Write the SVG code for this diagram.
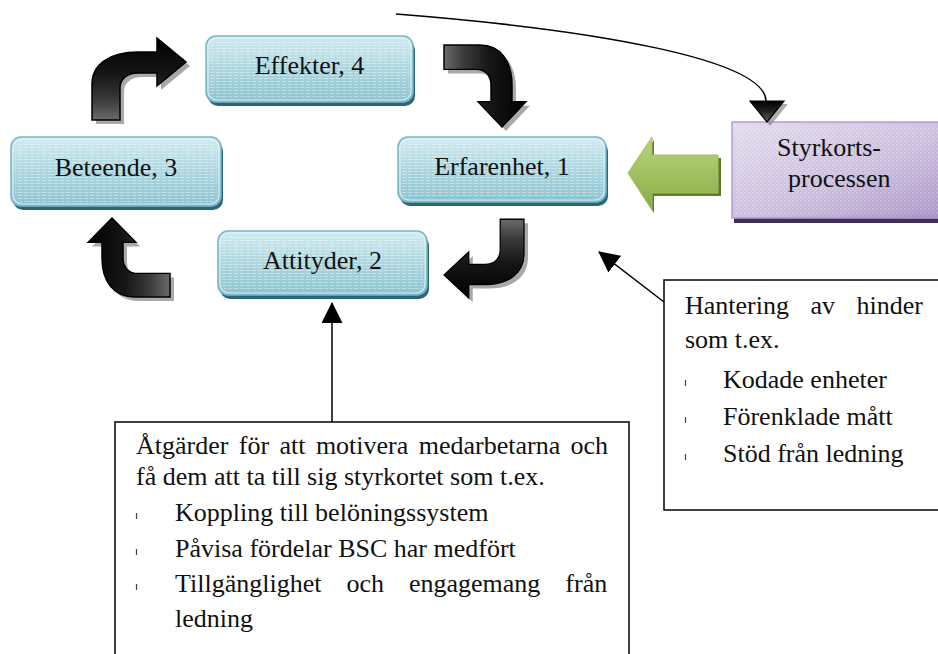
<svg xmlns="http://www.w3.org/2000/svg" xmlns:xlink="http://www.w3.org/1999/xlink" width="938" height="654" viewBox="0 0 938 654">
  <style>
    text { font-family: "Liberation Serif", "Times New Roman", serif; font-size: 26px; fill: #111; }
    .label { text-anchor: middle; }
    .node-shadow { fill: #2b6677; }
    .node-body { fill: url(#blueFill); stroke: #78b7c7; stroke-width: 1.5; }
    .node-tex { fill: url(#stripes); }
    .node-glow { fill: none; stroke: #e9f6f9; stroke-width: 1.2; opacity: 0.8; }
    .bent { fill: url(#darkFill); stroke: #000; stroke-width: 1.5; stroke-linejoin: miter; }
    .bent-shadow { fill: #6f6f6f; opacity: 0.6; }
    .line { fill: none; stroke: #000; stroke-width: 1.5; }
    .box { fill: #fff; stroke: #000; stroke-width: 1.5; }
    .tick { stroke: #444; stroke-width: 1.2; }
  </style>
  <defs>
    <linearGradient id="blueFill" x1="0" y1="0" x2="0" y2="1">
      <stop offset="0" stop-color="#d1ebf1"/>
      <stop offset="0.5" stop-color="#acd6df"/>
      <stop offset="1" stop-color="#8bc3d0"/>
    </linearGradient>
    <linearGradient id="purpleFill" x1="0" y1="0" x2="1" y2="1">
      <stop offset="0" stop-color="#e3dbee"/>
      <stop offset="0.55" stop-color="#cbbcdf"/>
      <stop offset="1" stop-color="#a88fc7"/>
    </linearGradient>
    <linearGradient id="greenFill" x1="0" y1="0" x2="0" y2="1">
      <stop offset="0" stop-color="#b8d47e"/>
      <stop offset="0.6" stop-color="#9cbd5a"/>
      <stop offset="1" stop-color="#86a846"/>
    </linearGradient>
    <linearGradient id="darkFill" x1="0" y1="0" x2="0" y2="1">
      <stop offset="0" stop-color="#000"/>
      <stop offset="0.45" stop-color="#161616"/>
      <stop offset="0.75" stop-color="#3a3a3a"/>
      <stop offset="1" stop-color="#6a6a6a"/>
    </linearGradient>
    <linearGradient id="tipFill" x1="0" y1="0" x2="0" y2="1">
      <stop offset="0" stop-color="#000"/>
      <stop offset="0.5" stop-color="#222"/>
      <stop offset="1" stop-color="#666"/>
    </linearGradient>
    <pattern id="stripes" width="6" height="3" patternUnits="userSpaceOnUse">
      <rect x="0" y="0" width="4.5" height="1" fill="#ffffff" opacity="0.4"/>
    </pattern>
    <pattern id="dots" width="4" height="4" patternUnits="userSpaceOnUse">
      <rect x="0" y="0" width="1.5" height="1.5" fill="#ffffff" opacity="0.35"/>
      <rect x="2" y="2" width="1.5" height="1.5" fill="#ffffff" opacity="0.25"/>
    </pattern>
    <!-- bent block arrow: tail at the bottom, head pointing right -->
    <path id="bentArrow" d="M 0,82 L 0,46 C 0,26 18,14 46,14 L 65,14 L 65,0 L 94,24 L 65,48 L 65,35 L 46,35 C 35,35 28,41 28,50 L 28,82 Z"/>
    <marker id="head" markerUnits="userSpaceOnUse" markerWidth="21" markerHeight="21" viewBox="0 0 20 20" refX="19" refY="10" orient="auto">
      <path d="M0,0 L20,10 L0,20 Z" fill="#000"/>
    </marker>
  </defs>

  <rect width="938" height="654" fill="#fff"/>

  <!-- cycle nodes -->
  <g id="node-effekter">
    <rect class="node-shadow" x="208" y="40" width="207" height="66" rx="10"/>
    <rect class="node-body" x="206" y="36" width="207" height="66" rx="10"/>
    <rect class="node-tex" x="210" y="40" width="199" height="58" rx="7"/>
    <rect class="node-glow" x="208" y="38" width="203" height="62" rx="9"/>
    <text class="label" x="309.5" y="74">Effekter, 4</text>
  </g>

  <g id="node-erfarenhet">
    <rect class="node-shadow" x="400" y="141" width="208" height="65" rx="10"/>
    <rect class="node-body" x="398" y="137" width="208" height="65" rx="10"/>
    <rect class="node-tex" x="402" y="141" width="200" height="57" rx="7"/>
    <rect class="node-glow" x="400" y="139" width="204" height="61" rx="9"/>
    <text class="label" x="502" y="175">Erfarenhet, 1</text>
  </g>

  <g id="node-attityder">
    <rect class="node-shadow" x="220" y="235" width="209" height="64" rx="10"/>
    <rect class="node-body" x="218" y="231" width="209" height="64" rx="10"/>
    <rect class="node-tex" x="222" y="235" width="201" height="56" rx="7"/>
    <rect class="node-glow" x="220" y="233" width="205" height="60" rx="9"/>
    <text class="label" x="322.5" y="269">Attityder, 2</text>
  </g>

  <g id="node-beteende">
    <rect class="node-shadow" x="13" y="141" width="210" height="69" rx="10"/>
    <rect class="node-body" x="11" y="137" width="210" height="69" rx="10"/>
    <rect class="node-tex" x="15" y="141" width="202" height="61" rx="7"/>
    <rect class="node-glow" x="13" y="139" width="206" height="65" rx="9"/>
    <text class="label" x="116" y="176">Beteende, 3</text>
  </g>

  <g id="node-styrkort">
    <rect x="734" y="126" width="220" height="97" fill="#3f2e5a"/>
    <rect x="732" y="122" width="220" height="96" fill="url(#purpleFill)" stroke="#b3a0cf" stroke-width="1.5"/>
    <rect x="735" y="125" width="214" height="90" fill="url(#dots)"/>
    <text x="777" y="156">Styrkorts-</text>
    <text x="788" y="187">processen</text>
  </g>

  <!-- text boxes -->
  <g id="note-hinder">
    <rect class="box" x="664" y="280" width="290" height="230"/>
    <text x="685" y="314" word-spacing="15">Hantering av hinder</text>
    <text x="685" y="348">som t.ex.</text>
    <line class="tick" x1="685.5" y1="380" x2="685.5" y2="386"/>
    <text x="723" y="388">Kodade enheter</text>
    <line class="tick" x1="685.5" y1="417" x2="685.5" y2="423"/>
    <text x="723" y="425">Förenklade mått</text>
    <line class="tick" x1="685.5" y1="454" x2="685.5" y2="460"/>
    <text x="723" y="462">Stöd från ledning</text>
  </g>

  <g id="note-atgarder">
    <rect class="box" x="115" y="422" width="514" height="260"/>
    <text x="136" y="454" word-spacing="3.9">Åtgärder för att motivera medarbetarna och</text>
    <text x="136" y="485">få dem att ta till sig styrkortet som t.ex.</text>
    <line class="tick" x1="136.5" y1="513" x2="136.5" y2="519"/>
    <text x="175" y="521">Koppling till belöningssystem</text>
    <line class="tick" x1="136.5" y1="549" x2="136.5" y2="555"/>
    <text x="175" y="557">Påvisa fördelar BSC har medfört</text>
    <line class="tick" x1="136.5" y1="584" x2="136.5" y2="590"/>
    <text x="175" y="592" word-spacing="18.5">Tillgänglighet och engagemang från</text>
    <text x="175" y="627">ledning</text>
  </g>

  <!-- connectors -->
  <g id="connectors">
    <!-- Beteende to Effekter -->
    <use href="#bentArrow" class="bent-shadow" transform="translate(96,42)"/>
    <use href="#bentArrow" class="bent" transform="translate(92,38)"/>
    <!-- Effekter to Erfarenhet -->
    <use href="#bentArrow" class="bent-shadow" transform="translate(530,49) rotate(90) scale(0.872,1)"/>
    <use href="#bentArrow" class="bent" transform="translate(526,45) rotate(90) scale(0.872,1)"/>
    <!-- Erfarenhet to Attityder -->
    <use href="#bentArrow" class="bent-shadow" transform="translate(528,302) rotate(180) scale(0.85,0.96)"/>
    <use href="#bentArrow" class="bent" transform="translate(524,298) rotate(180) scale(0.85,0.96)"/>
    <!-- Attityder to Beteende -->
    <use href="#bentArrow" class="bent-shadow" transform="translate(92,301) rotate(-90) scale(0.84,1)"/>
    <use href="#bentArrow" class="bent" transform="translate(88,297) rotate(-90) scale(0.84,1)"/>

    <!-- Styrkortsprocessen to Erfarenhet -->
    <path d="M 630,176 L 654,140 L 654,158 L 721,158 L 721,196 L 654,196 L 654,213 Z" fill="#5b7b31"/>
    <path d="M 628,173 L 652,137 L 652,155 L 718,155 L 718,193 L 652,193 L 652,210 Z" fill="url(#greenFill)" stroke="#9fc063" stroke-width="1"/>

    <!-- long curve into Styrkortsprocessen -->
    <path class="line" d="M 396,14 C 600,30 765,60 766,101"/>
    <path d="M 753,104 L 788,104 L 770,126 Z" fill="#8a8a8a" opacity="0.7"/>
    <path d="M 750,101 L 784,101 L 767,122 Z" fill="url(#tipFill)" stroke="#000" stroke-width="1.2"/>

    <!-- note pointers -->
    <path class="line" d="M 332,422 L 332,303" marker-end="url(#head)"/>
    <path class="line" d="M 664,302 L 599,252" marker-end="url(#head)"/>
  </g>
</svg>
